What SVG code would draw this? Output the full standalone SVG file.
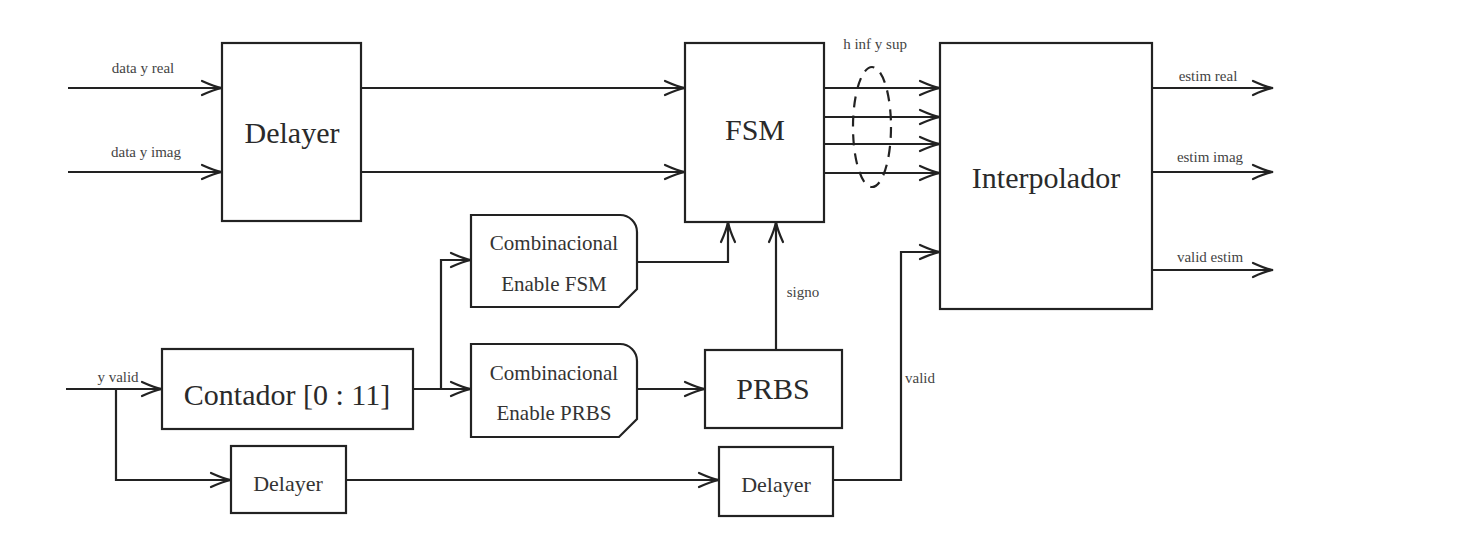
<svg xmlns="http://www.w3.org/2000/svg" width="1462" height="551" viewBox="0 0 1462 551">
<style>
.box{fill:#fff;stroke:#222;stroke-width:2.2}
.wire{fill:none;stroke:#222;stroke-width:2.2}
.t{font-family:"Times New Roman","Liberation Serif","DejaVu Serif",serif;text-anchor:middle}
.big{font-size:30px;fill:#2a2a2a}
.mid{font-size:21px;fill:#333}
.lbl{font-size:15px;fill:#444}
</style>
<defs>
<marker id="arr" markerUnits="userSpaceOnUse" viewBox="-23 -9 25 18" refX="0" refY="0" markerWidth="25" markerHeight="18" orient="auto">
<path d="M-20,-7 Q-8,-1.5 0,0 Q-8,1.5 -20,7" fill="none" stroke="#222" stroke-width="2.2" stroke-linecap="round"/>
</marker>
</defs>
<rect width="1462" height="551" fill="#fff"/>

<g id="connectors">
<path class="wire" d="M68,88 H222" marker-end="url(#arr)"/>
<path class="wire" d="M68,172 H222" marker-end="url(#arr)"/>
<path class="wire" d="M361,88 H685" marker-end="url(#arr)"/>
<path class="wire" d="M361,172 H685" marker-end="url(#arr)"/>
<path class="wire" d="M824,88 H940" marker-end="url(#arr)"/>
<path class="wire" d="M824,117 H940" marker-end="url(#arr)"/>
<path class="wire" d="M824,144 H940" marker-end="url(#arr)"/>
<path class="wire" d="M824,173 H940" marker-end="url(#arr)"/>
<path class="wire" d="M1152,88 H1273" marker-end="url(#arr)"/>
<path class="wire" d="M1152,172 H1273" marker-end="url(#arr)"/>
<path class="wire" d="M1152,270 H1273" marker-end="url(#arr)"/>
<path class="wire" d="M66,389 H162" marker-end="url(#arr)"/>
<path class="wire" d="M116,389 V480 H231" marker-end="url(#arr)"/>
<path class="wire" d="M413,389 H471" marker-end="url(#arr)"/>
<path class="wire" d="M441,389 V260 H471" marker-end="url(#arr)"/>
<path class="wire" d="M637,262 H728 V222" marker-end="url(#arr)"/>
<path class="wire" d="M637,389 H705" marker-end="url(#arr)"/>
<path class="wire" d="M776,350 V222" marker-end="url(#arr)"/>
<path class="wire" d="M346,480 H719" marker-end="url(#arr)"/>
<path class="wire" d="M833,480 H901 V252 H940" marker-end="url(#arr)"/>
<ellipse cx="872" cy="127" rx="19" ry="60" fill="none" stroke="#222" stroke-width="2.2" stroke-dasharray="11,8"/>
<text class="t lbl" x="143" y="73">data y real</text>
<text class="t lbl" x="146" y="157">data y imag</text>
<text class="t lbl" x="875" y="49">h inf y sup</text>
<text class="t lbl" x="1208" y="81">estim real</text>
<text class="t lbl" x="1210" y="162">estim imag</text>
<text class="t lbl" x="1210" y="262">valid estim</text>
<text class="t lbl" x="118" y="382">y valid</text>
<text class="t lbl" x="803" y="297">signo</text>
<text class="t lbl" x="920" y="383">valid</text>
</g>

<g id="delayer-top">
<rect class="box" x="222" y="43" width="139" height="178"/>
<text class="t big" x="292" y="143">Delayer</text>
</g>
<g id="fsm">
<rect class="box" x="685" y="43" width="139" height="179"/>
<text class="t big" x="755" y="140">FSM</text>
</g>
<g id="interpolador">
<rect class="box" x="940" y="43" width="212" height="266"/>
<text class="t big" x="1046" y="188">Interpolador</text>
</g>
<g id="comb-fsm">
<path class="box" d="M471,215 H620 A17,17 0 0 1 637,232 V289 L619,307 H471 Z"/>
<text class="t mid" x="554" y="250">Combinacional</text>
<text class="t mid" x="554" y="291">Enable FSM</text>
</g>
<g id="comb-prbs">
<path class="box" d="M471,344 H620 A17,17 0 0 1 637,361 V419 L619,437 H471 Z"/>
<text class="t mid" x="554" y="380">Combinacional</text>
<text class="t mid" x="554" y="420">Enable PRBS</text>
</g>
<g id="prbs">
<rect class="box" x="705" y="350" width="137" height="78"/>
<text class="t big" x="773" y="399">PRBS</text>
</g>
<g id="contador">
<rect class="box" x="162" y="349" width="251" height="80"/>
<text class="t big" x="287" y="405">Contador [0 : 11]</text>
</g>
<g id="delayer-small">
<rect class="box" x="231" y="446" width="115" height="67"/>
<text class="t mid" x="288" y="491" style="font-size:22px">Delayer</text>
</g>
<g id="delayer-2">
<rect class="box" x="719" y="447" width="114" height="69"/>
<text class="t mid" x="776" y="492" style="font-size:22px">Delayer</text>
</g>
</svg>
